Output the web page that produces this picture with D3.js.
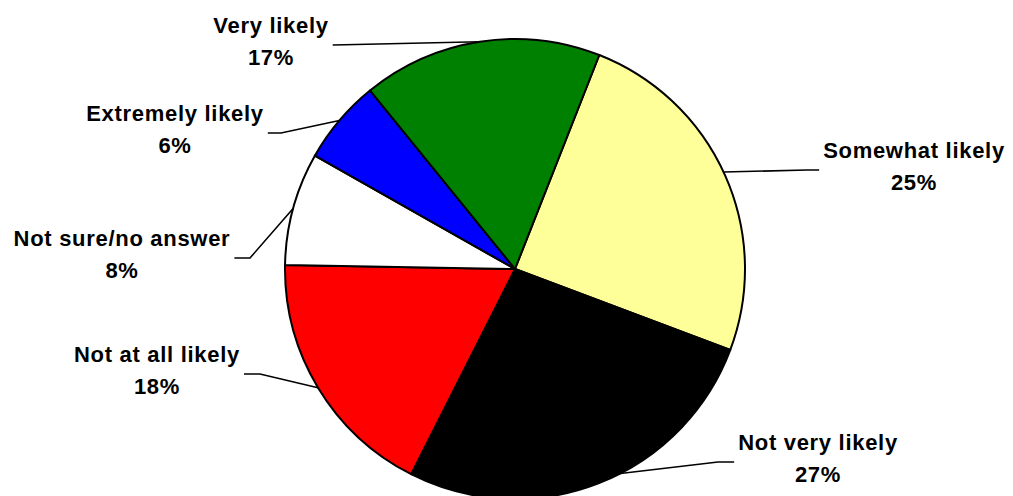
<!DOCTYPE html>
<html>
<head>
<meta charset="utf-8">
<script src="https://cdn.jsdelivr.net/npm/d3@7"></script>
<style>
  body { margin: 0; background: #fff; }
  text { font-family: "Liberation Sans", Arial, sans-serif; font-weight: bold; font-size: 22px; letter-spacing: 0.7px; fill: #000; }
</style>
</head>
<body>
<svg id="chart" width="1013" height="496"></svg>
<script>
// survey answers, clockwise from the top right
const categories = ['Somewhat likely', 'Not very likely', 'Not at all likely', 'Not sure/no answer', 'Extremely likely', 'Very likely'];
const values = [25, 27, 18, 8, 6, 17];
const colors = ['#FFFF99', '#000000', '#FF0000', '#FFFFFF', '#0000FF', '#008000'];

// label placement: text centre, first baseline, elbow x, angle nudge (deg)
const labelLayout = [
  { x: 914, y: 158, elbowX: 807, side: 'right', nudge: -1 },
  { x: 818, y: 450, elbowX: 718, side: 'right', nudge: -6 },
  { x: 157, y: 362, elbowX: 260, side: 'left', nudge: 0 },
  { x: 122, y: 246, elbowX: 250, side: 'left', nudge: 0 },
  { x: 175, y: 121, elbowX: 281, side: 'left', nudge: 0 },
  { x: 271, y: 33, elbowX: 333, side: 'left', nudge: 0 }
];

const svg = d3.select('#chart');
const cx = 515, cy = 269, r = 230;
const g = svg.append('g').attr('transform', `translate(${cx},${cy})`);

const start = 21.5 * Math.PI / 180;
const pie = d3.pie().sort(null).value(d => d).startAngle(start).endAngle(start + 2 * Math.PI);
const arcs = pie(values);
const arc = d3.arc().innerRadius(0).outerRadius(r);

g.selectAll('path.slice')
  .data(arcs)
  .join('path')
  .attr('class', 'slice')
  .attr('d', arc)
  .attr('fill', (d, i) => colors[i])
  .attr('stroke', '#000')
  .attr('stroke-width', 2)
  .attr('stroke-linejoin', 'round');

// leader lines
arcs.forEach((d, i) => {
  const L = labelLayout[i];
  const a = (d.startAngle + d.endAngle) / 2 + L.nudge * Math.PI / 180;
  const px = cx + r * Math.sin(a);
  const py = cy - r * Math.cos(a);
  const ly = L.y + 12;
  const textEdge = L.side === 'left'
    ? L.x + 0.5 * textWidth(categories[i]) + 4
    : L.x - 0.5 * textWidth(categories[i]) - 4;
  const pts = [[textEdge, ly], [L.elbowX, ly], [px, py]];
  svg.append('path')
    .attr('d', d3.line()(pts))
    .attr('fill', 'none')
    .attr('stroke', '#000')
    .attr('stroke-width', 1.6);
});

function textWidth(s) {
  const t = svg.append('text').text(s);
  const w = t.node().getComputedTextLength();
  t.remove();
  return w;
}

// labels
const fmt = v => Math.round(v) + '%';
arcs.forEach((d, i) => {
  const L = labelLayout[i];
  const t = svg.append('text').attr('text-anchor', 'middle');
  t.append('tspan').attr('x', L.x).attr('y', L.y).text(categories[i]);
  t.append('tspan').attr('x', L.x).attr('y', L.y + 32).text(fmt(values[i]));
});
</script>
</body>
</html>
